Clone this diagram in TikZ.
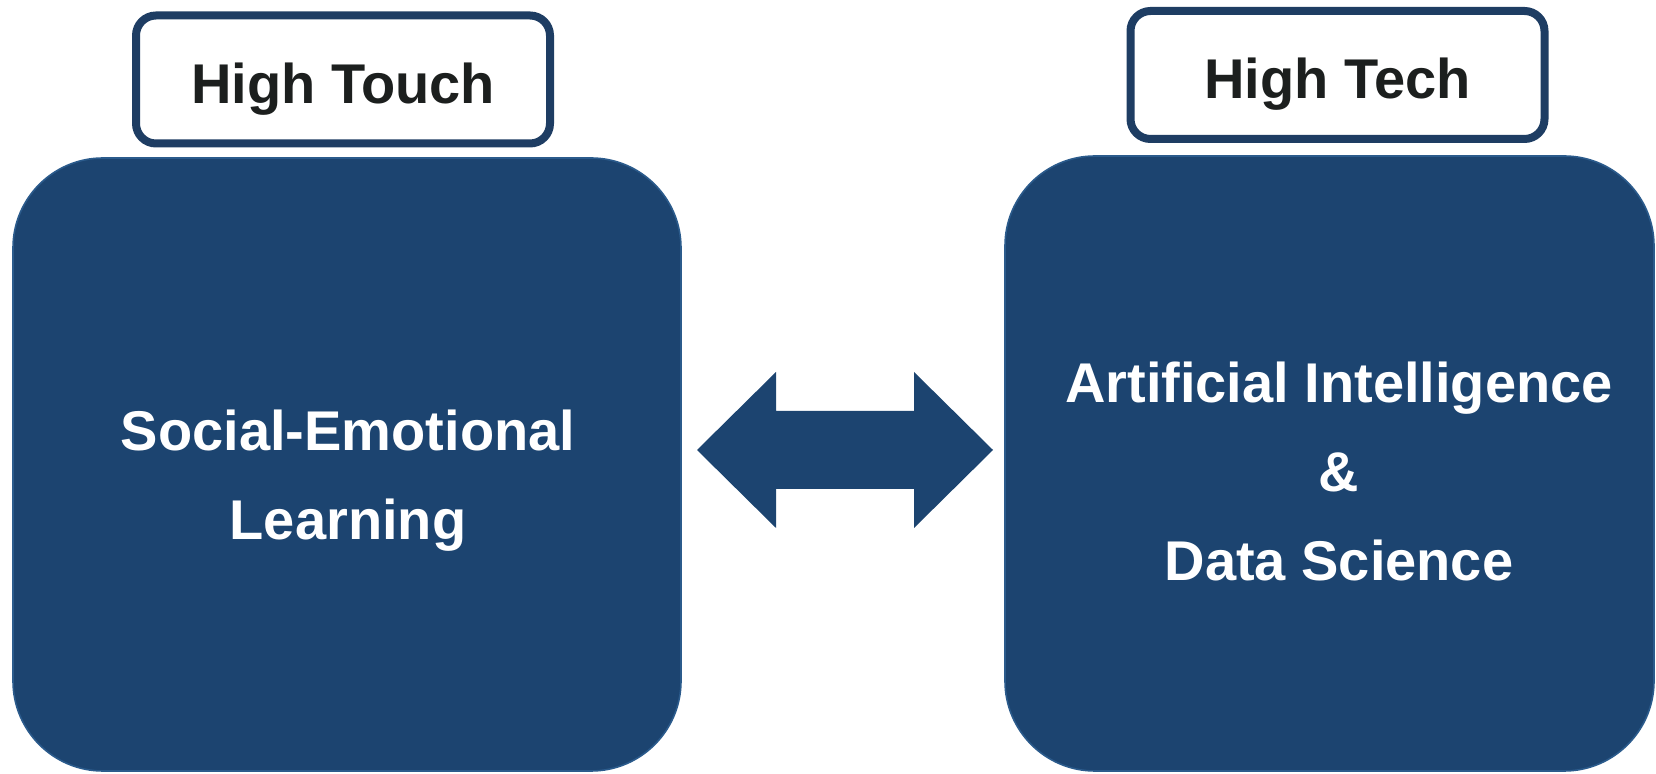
\documentclass[tikz,border=0pt]{standalone}
\usepackage{fontspec}
\setmainfont{Liberation Sans}
\usepackage{xcolor}
\definecolor{PanelNavy}{HTML}{1C4470}
\definecolor{PanelEdge}{HTML}{2B5B8C}
\definecolor{TagNavy}{HTML}{1E3D63}
\definecolor{TagInk}{HTML}{1C1F1E}
\begin{document}
\begin{tikzpicture}[x=0.5pt,y=-0.5pt,font=\bfseries\fontsize{28}{44.5}\selectfont]
\tikzset{panel/.style={draw=PanelEdge,line width=0.8pt,fill=PanelNavy,rounded corners=45pt,inner sep=0pt},
         tag/.style={draw=TagNavy,line width=4pt,fill=white,rounded corners=10pt,text=TagInk,
                     minimum width=207pt,minimum height=64pt,text height=26pt,text depth=2pt},
         paneltext/.style={text=white,align=center}}
\useasboundingbox (0,0) rectangle (1656,774);
\node[panel,minimum width=334pt,minimum height=306.5pt] (sel) at (347,464.5) {};
\node[panel,minimum width=324.5pt,minimum height=307.5pt] (aids) at (1329.5,463.5) {};
\node[tag] (touch) at (343,79.5) {High Touch};
\node[tag] (tech) at (1337.5,75) {High Tech};
\node[paneltext] (seltext) at (348,481) {Social-Emotional\\Learning};
\node[paneltext] (aidstext) at (1339,471) {Artificial Intelligence\\\&\\Data Science};
% two-headed block arrow between the panels
\coordinate (link) at (845,450);
\fill[PanelNavy] (link) ++(-148,0) -- ++(79,-78) -- ++(0,39) -- ++(138,0) -- ++(0,-39)
  -- ++(79,78) -- ++(-79,78) -- ++(0,-39) -- ++(-138,0) -- ++(0,39) -- cycle;
\end{tikzpicture}
\end{document}
